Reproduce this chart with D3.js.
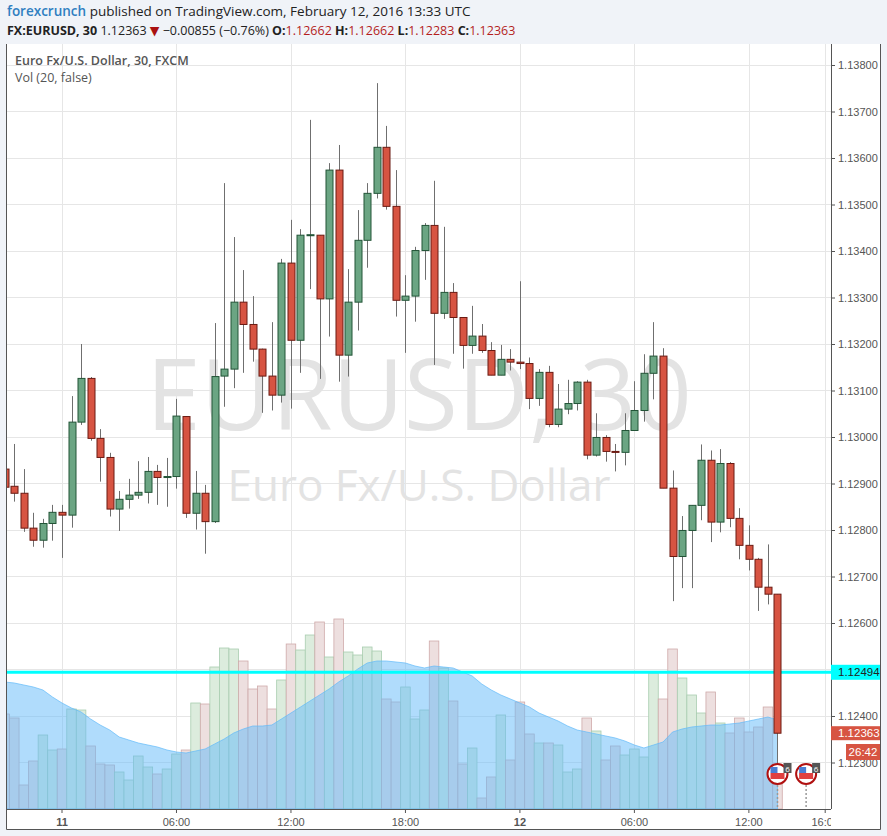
<!DOCTYPE html>
<html>
<head>
<meta charset="utf-8">
<script src="https://cdn.jsdelivr.net/npm/d3@7/dist/d3.min.js"></script>
<style>
  body { margin: 0; background: #f0f3f8; }
  svg { display: block; font-family: "Open Sans", "DejaVu Sans", sans-serif; }
</style>
</head>
<body>
<svg id="chart" width="887" height="836"></svg>
<script>
// 30-minute bars, first bar is Feb 10 21:00 UTC
var firstBar = Date.UTC(2016, 1, 10, 21, 0)
var opens = [1.12931,1.12894,1.12879,1.12804,1.12778,1.12814,1.12838,1.12832,1.13032,1.13126,1.12997,1.12956,1.12845,1.12866,1.12875,1.12881,1.12926,1.12914,1.12915,1.13044,1.12836,1.12879,1.12818,1.13131,1.13146,1.13290,1.13242,1.13189,1.13131,1.13090,1.13374,1.13208,1.13434,1.13434,1.13297,1.13574,1.13176,1.13290,1.13423,1.13524,1.13623,1.13496,1.13294,1.13303,1.13401,1.13455,1.13266,1.13311,1.13257,1.13197,1.13217,1.13186,1.13133,1.13167,1.13161,1.13158,1.13083,1.13139,1.13027,1.13060,1.13072,1.13118,1.12961,1.12999,1.12969,1.12967,1.13014,1.13057,1.13137,1.13174,1.12890,1.12743,1.12799,1.12853,1.12950,1.12817,1.12943,1.12825,1.12767,1.12737,1.12677,1.12662]
var highs = [1.12940,1.12985,1.12931,1.12837,1.12824,1.12854,1.12854,1.13088,1.13200,1.13129,1.13017,1.12966,1.12884,1.12910,1.12948,1.12957,1.12940,1.12955,1.13082,1.13045,1.12927,1.12897,1.13245,1.13546,1.13430,1.13359,1.13303,1.13190,1.13247,1.13383,1.13467,1.13447,1.13682,1.13434,1.13589,1.13628,1.13361,1.13488,1.13546,1.13761,1.13669,1.13574,1.13348,1.13409,1.13460,1.13551,1.13452,1.13331,1.13258,1.13282,1.13243,1.13204,1.13198,1.13189,1.13335,1.13171,1.13146,1.13153,1.13114,1.13123,1.13120,1.13123,1.13051,1.13004,1.12985,1.13051,1.13120,1.13178,1.13247,1.13191,1.12928,1.12830,1.12853,1.12984,1.12971,1.12974,1.12946,1.12847,1.12810,1.12740,1.12769,1.12662]
var lows = [1.12886,1.12861,1.12796,1.12764,1.12762,1.12777,1.12740,1.12805,1.13026,1.12992,1.12904,1.12829,1.12798,1.12846,1.12867,1.12857,1.12854,1.12850,1.12889,1.12826,1.12801,1.12749,1.12815,1.13065,1.13105,1.13138,1.13162,1.13052,1.13057,1.13074,1.13061,1.13138,1.13318,1.13125,1.13216,1.13119,1.13130,1.13229,1.13364,1.13513,1.13489,1.13259,1.13181,1.13248,1.13338,1.13155,1.13254,1.13179,1.13147,1.13179,1.13181,1.13133,1.13133,1.13143,1.13146,1.13060,1.13067,1.13021,1.13021,1.13049,1.13057,1.12952,1.12958,1.12947,1.12926,1.12939,1.13014,1.13033,1.13081,1.12890,1.12647,1.12675,1.12675,1.12821,1.12774,1.12795,1.12806,1.12737,1.12713,1.12626,1.12640,1.12283]
var closes = [1.12892,1.12879,1.12804,1.12778,1.12814,1.12838,1.12832,1.13032,1.13126,1.12997,1.12956,1.12845,1.12866,1.12875,1.12881,1.12926,1.12913,1.12915,1.13045,1.12836,1.12879,1.12818,1.13130,1.13146,1.13290,1.13242,1.13189,1.13131,1.13090,1.13374,1.13208,1.13434,1.13435,1.13297,1.13574,1.13176,1.13290,1.13423,1.13524,1.13623,1.13496,1.13294,1.13303,1.13401,1.13455,1.13266,1.13311,1.13257,1.13197,1.13217,1.13186,1.13133,1.13167,1.13161,1.13158,1.13083,1.13139,1.13027,1.13060,1.13072,1.13118,1.12961,1.12999,1.12969,1.12967,1.13014,1.13057,1.13137,1.13174,1.12890,1.12743,1.12799,1.12853,1.12950,1.12817,1.12943,1.12825,1.12767,1.12737,1.12677,1.12662,1.12363]
var volumes = [95,91,24,48,74,59,60,100,99,63,45,44,37,29,53,42,35,40,55,59,106,105,142,161,160,148,120,123,100,129,165,159,174,187,152,190,157,154,162,158,110,107,122,90,99,168,141,108,45,61,11,32,94,49,107,75,66,66,64,37,40,91,78,49,63,54,60,52,136,110,160,131,114,96,117,86,76,91,77,82,102,25]
var volumeMA = [127,126,124,122,119,112,106,101,97,90,84,79,72,69,66,64,62,59,57,56,58,60,65,70,76,80,83,83,84,90,96,102,108,114,120,127,133,140,146,148,148,147,146,143,141,143,142,141,137,133,125,119,114,110,106,102,96,92,88,83,79,77,75,73,71,68,64,61,64,67,77,80,82,83,84,84,85,86,88,90,92,89]
var priceTicks = [1.123,1.124,1.125,1.126,1.127,1.128,1.129,1.130,1.131,1.132,1.133,1.134,1.135,1.136,1.137,1.138]
var timeTicks = [
  { t: Date.UTC(2016,1,11,0,0), label: "11", bold: true },
  { t: Date.UTC(2016,1,11,6,0), label: "06:00" },
  { t: Date.UTC(2016,1,11,12,0), label: "12:00" },
  { t: Date.UTC(2016,1,11,18,0), label: "18:00" },
  { t: Date.UTC(2016,1,12,0,0), label: "12", bold: true },
  { t: Date.UTC(2016,1,12,6,0), label: "06:00" },
  { t: Date.UTC(2016,1,12,12,0), label: "12:00" },
  { t: Date.UTC(2016,1,12,16,0), label: "16:00" }
]
var markLevel = 1.12494

var bars = opens.map(function (o, i) {
  return { t: new Date(firstBar + i * 1800000), o: o, h: highs[i], l: lows[i], c: closes[i], v: volumes[i], ma: volumeMA[i] }
})

var pL = 7, pR = 831, pT = 44, pB = 809
var x = d3.scaleTime()
  .domain([new Date(Date.UTC(2016,1,10,21,0)), new Date(Date.UTC(2016,1,12,16,0))])
  .range([4.76, 4.76 + 86 * 9.54])
var y = d3.scaleLinear().domain([1.130, 1.138]).range([437, 65])
var yv = d3.scaleLinear().domain([0, 200]).range([pB, pB - 200])

var svg = d3.select('#chart')

// header
svg.append('rect').attr('width', 887).attr('height', 836).attr('fill', '#f0f3f8')
var h1 = svg.append('text').attr('x', 7).attr('y', 16).attr('font-size', 13.5)
h1.append('tspan').attr('fill', '#2f7fc1').attr('font-weight', 600).text('forexcrunch')
h1.append('tspan').attr('fill', '#222').text(' published on TradingView.com, February 12, 2016 13:33 UTC')
var h2 = svg.append('text').attr('x', 7).attr('y', 35).attr('font-size', 12.5).attr('fill', '#222')
h2.append('tspan').attr('font-weight', 700).text('FX:EURUSD, 30')
h2.append('tspan').text('  1.12363 ')
h2.append('tspan').attr('fill', '#a11').text('▼')
h2.append('tspan').text(' −0.00855 (−0.76%) ')
;[['O:', '1.12662'], ['H:', '1.12662'], ['L:', '1.12283'], ['C:', '1.12363']].forEach(function (p) {
  h2.append('tspan').attr('font-weight', 700).text(' ' + p[0])
  h2.append('tspan').attr('fill', '#b41e1e').text(p[1])
})

// chart frame
svg.append('rect').attr('x', pL).attr('y', pT).attr('width', 880 - pL).attr('height', 829 - pT).attr('fill', '#fff')
svg.append('clipPath').attr('id', 'plot').append('rect')
  .attr('x', pL).attr('y', pT).attr('width', pR - pL).attr('height', pB - pT)
var plot = svg.append('g').attr('clip-path', 'url(#plot)')

// grid
plot.selectAll('.hg').data(priceTicks).enter().append('line')
  .attr('x1', pL).attr('x2', pR).attr('y1', d => Math.round(y(d)) + 0.5).attr('y2', d => Math.round(y(d)) + 0.5)
  .attr('stroke', '#e6e6e6')
plot.selectAll('.vg').data(timeTicks).enter().append('line')
  .attr('x1', d => Math.round(x(d.t)) + 0.5).attr('x2', d => Math.round(x(d.t)) + 0.5).attr('y1', pT).attr('y2', pB)
  .attr('stroke', '#e6e6e6')

// watermark
plot.append('text').attr('x', 419).attr('y', 430).attr('text-anchor', 'middle').attr('font-size', 98)
  .attr('fill', '#e3e3e3').text('EURUSD, 30')
plot.append('text').attr('x', 419).attr('y', 501).attr('text-anchor', 'middle').attr('font-size', 44)
  .attr('fill', '#e3e3e3').text('Euro Fx/U.S. Dollar')

// volume bars
var bw = 9.54
plot.selectAll('.vol').data(bars).enter().append('rect')
  .attr('x', d => x(d.t) - bw / 2).attr('width', bw)
  .attr('y', d => yv(d.v)).attr('height', d => pB - yv(d.v))
  .attr('fill', d => d.c >= d.o ? '#dcecdd' : '#eddfdf')
  .attr('stroke', d => d.c >= d.o ? '#a9cdb0' : '#cfaaaa').attr('stroke-width', 0.8)

// volume moving average
var area = d3.area().x(d => x(d.t)).y0(pB).y1(d => yv(d.ma))
plot.append('path').datum(bars).attr('d', area)
  .attr('fill', 'rgba(98,186,250,0.5)').attr('stroke', 'rgba(98,186,250,0.7)')

// level line
plot.append('line').attr('x1', pL).attr('x2', pR).attr('y1', y(markLevel)).attr('y2', y(markLevel))
  .attr('stroke', '#00ffff').attr('stroke-width', 3)

// candles
var g = plot.selectAll('.candle').data(bars).enter().append('g')
g.append('line').attr('x1', d => Math.round(x(d.t)) + 0.5).attr('x2', d => Math.round(x(d.t)) + 0.5)
  .attr('y1', d => y(d.h)).attr('y2', d => y(d.l)).attr('stroke', '#6f6f6f')
g.append('rect')
  .attr('x', d => Math.round(x(d.t)) - 3).attr('width', 7)
  .attr('y', d => y(Math.max(d.o, d.c))).attr('height', d => Math.max(1, Math.abs(y(d.o) - y(d.c))))
  .attr('fill', d => d.c >= d.o ? '#6ba583' : '#d75442')
  .attr('stroke', d => d.c >= d.o ? '#225437' : '#6b1a12').attr('stroke-width', 1)

// event markers
;[x(bars[bars.length - 1].t), x(bars[bars.length - 1].t) + 3 * 9.54].forEach(function (cx) {
  plot.append('line').attr('x1', cx).attr('x2', cx).attr('y1', 785).attr('y2', pB)
    .attr('stroke', '#999').attr('stroke-dasharray', '2,2').attr('stroke-width', 1.5)
  plot.append('circle').attr('cx', cx).attr('cy', 774).attr('r', 10).attr('fill', '#fff').attr('stroke', '#b01010').attr('stroke-width', 2)
  plot.append('rect').attr('x', cx - 7).attr('y', 773).attr('width', 14).attr('height', 6).attr('fill', '#e04040')
  plot.append('rect').attr('x', cx - 7).attr('y', 767).attr('width', 7).attr('height', 6).attr('fill', '#4a7fd4')
  plot.append('rect').attr('x', cx + 6).attr('y', 763).attr('width', 8).attr('height', 10).attr('fill', '#555')
  plot.append('text').attr('x', cx + 10).attr('y', 771.5).attr('text-anchor', 'middle').attr('font-size', 8).attr('fill', '#fff').text('6')
})

// legend
svg.append('text').attr('x', 15).attr('y', 65).attr('font-size', 12.5).attr('font-weight', 600).attr('fill', '#555')
  .text('Euro Fx/U.S. Dollar, 30, FXCM')
svg.append('text').attr('x', 15).attr('y', 82).attr('font-size', 12.5).attr('fill', '#555').text('Vol (20, false)')

// right axis; labels sitting under a price tag are left out
var tagged = [markLevel, closes[closes.length - 1]]
var shown = priceTicks.filter(p => tagged.every(t => Math.abs(y(p) - y(t)) > 10))
var yAxis = d3.axisRight(y).tickValues(shown).tickFormat(d3.format('.5f')).tickSize(4)
var ya = svg.append('g').attr('transform', 'translate(' + pR + ',0)').call(yAxis)
ya.select('.domain').attr('stroke', '#555').attr('d', 'M0.5,' + pT + 'V' + pB)
ya.selectAll('line').attr('stroke', '#555')
ya.selectAll('text').attr('font-size', 11).attr('fill', '#555').attr('font-family', 'Arial, "Liberation Sans", sans-serif')

// time axis
svg.append('line').attr('x1', pL).attr('x2', pR).attr('y1', pB + 0.5).attr('y2', pB + 0.5).attr('stroke', '#555')
svg.append('clipPath').attr('id', 'tax').append('rect').attr('x', 0).attr('y', pB).attr('width', pR).attr('height', 25)
var ta = svg.append('g').attr('clip-path', 'url(#tax)')
ta.selectAll('text').data(timeTicks).enter().append('text')
  .attr('x', d => x(d.t)).attr('y', 826).attr('text-anchor', 'middle').attr('font-size', 11)
  .attr('font-weight', d => d.bold ? 700 : 400).attr('fill', '#555')
  .attr('font-family', 'Arial, "Liberation Sans", sans-serif').text(d => d.label)
ta.selectAll('line').data(timeTicks).enter().append('line')
  .attr('x1', d => x(d.t)).attr('x2', d => x(d.t)).attr('y1', pB).attr('y2', pB + 4).attr('stroke', '#555')

// price tags
function tag(yy, h, bg, fg, label) {
  svg.append('rect').attr('x', pR).attr('y', yy - h / 2).attr('width', 49).attr('height', h).attr('fill', bg)
  svg.append('text').attr('x', pR + 7).attr('y', yy + 4).attr('font-size', 11.5).attr('fill', fg)
    .attr('font-family', 'Arial, "Liberation Sans", sans-serif').text(label)
}
tag(y(markLevel), 15, '#00ffff', '#222', d3.format('.5f')(markLevel))
tag(y(closes[closes.length - 1]), 14, '#d75442', '#fff', d3.format('.5f')(closes[closes.length - 1]))
svg.append('rect').attr('x', 846).attr('y', 744).attr('width', 34).attr('height', 16).attr('fill', '#d75442')
svg.append('text').attr('x', 863).attr('y', 756).attr('text-anchor', 'middle').attr('font-size', 11.5).attr('fill', '#fff')
  .attr('font-family', 'Arial, "Liberation Sans", sans-serif').text('26:42')

// outer border
svg.append('path').attr('d', 'M' + (pL - 0.5) + ',' + pT + 'V829.5H880.5V' + pT).attr('fill', 'none').attr('stroke', '#555')
</script>
</body>
</html>
